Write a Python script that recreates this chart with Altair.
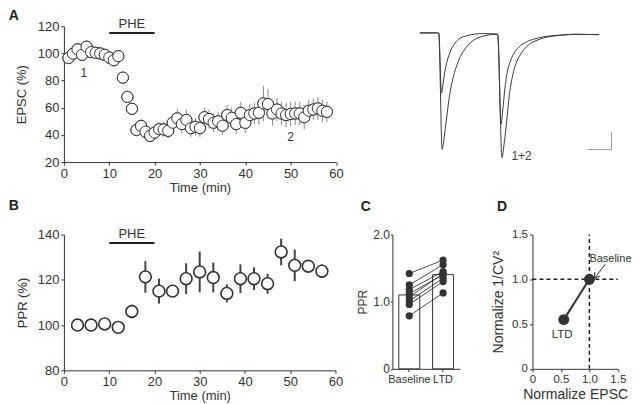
import altair as alt
import pandas as pd

FONT = "Liberation Sans"
INK = "#333333"

# ---------------- Panel A : EPSC time course ----------------
a_time = list(range(1, 59))
a_epsc = [96.6, 99.8, 103, 99, 105, 101, 100.5, 100, 99, 97, 95, 98,
          82.2, 68, 59.2, 43.6, 46.6, 42.4, 39.3, 41.7, 44.2, 44, 43, 49,
          52.2, 48, 51, 44.9, 46, 45, 53, 51.7, 49, 50, 46.8, 54.6, 52.6,
          48, 56.3, 48.9, 54.6, 55.8, 56.3, 63.2, 62.7, 55.8, 58.7, 55.8,
          54.6, 55.4, 55.8, 55.8, 53, 57.8, 58.7, 59.5, 57.8, 57]
a_err = [4, 4, 4.5, 4, 4.5, 4, 4, 4, 4, 4, 4.5, 4.5,
         3, 3, 3,
         4.5, 5, 4.5, 4.5, 5, 5, 5.5, 5.5,
         6.5, 7, 7, 7.5, 6.5, 6.5, 6.5, 7, 7, 7, 7, 7, 7.5, 7.5, 7.5, 8, 7.5, 8, 8, 8.5,
         13, 11,
         9, 8.5, 8.5, 9, 9, 8.5, 8.5, 9, 8, 8, 8.5, 8.5, 7.5]
a_phe = [10, 20]
a_phe_y = 115
a_marks_t = [4.4, 50]
a_marks_v = [85.6, 38.7]
a_marks_txt = ["1", "2"]

# ---------------- Panel A : example traces ----------------
tr1_t = [0, 15, 15.8, 18.6, 20, 21.4, 22.8, 24.2, 25.6, 28.3, 31.1, 33.9, 38.1,
         42.2, 47.8, 53.3, 58.9, 64.4, 65, 68.6, 70, 71.4, 72.8, 74.2, 75.6,
         78.3, 81.1, 85.3, 90.8, 97.8, 106.1, 117.2, 131.1, 149.7]
tr1_i = [0, 0, -1, -331, -306, -268, -230, -192, -162, -121, -90, -67, -44,
         -28, -15, -9, -5, -4, -5, -355, -325, -287, -240, -192, -156,
         -109, -80, -55, -34, -21, -12, -7, -4, -5]
tr2_t = [0, 15, 15.8, 18.1, 19.4, 20.8, 22.8, 25.6, 28.3, 32.5, 38.1, 45, 53.3,
         64.4, 65, 67.8, 68.9, 70, 71.4, 72.8, 75.6, 78.3, 82.5, 88.1, 95,
         103.3, 114.4, 128.3, 149.7]
tr2_i = [0, 0, -1, -171, -145, -112, -80, -52, -34, -18, -9, -4, -2,
         -3, -4, -260, -230, -192, -147, -115, -80, -60, -41, -27, -18,
         -11, -7, -4, -5]
bar_t = [140, 160]
bar_t2 = [160, 160]
bar_i = [-332, -332]
bar_i2 = [-332, -282]

# ---------------- Panel B : PPR time course ----------------
b_time = [3, 6, 9, 12, 15, 18, 21, 24, 27, 30, 33, 36, 39, 42, 45, 48, 51, 54, 57]
b_ppr = [100, 100, 100.5, 99, 106, 121.3, 115, 115, 120.5, 123.5, 121, 114,
         120.5, 120.5, 118.3, 132.3, 126.4, 126, 123.8]
b_err = [1.5, 1, 1.5, 1, 3, 7, 5.5, 1, 6.8, 9, 6.6, 4, 6.3, 5, 4.4, 5.9, 7, 1.5, 3]
b_phe_y = 136.3

# ---------------- Panel C : paired PPR ----------------
c_baseline = [1.42, 1.25, 1.18, 1.12, 1.07, 1.01, 0.96, 0.79]
c_ltd = [1.62, 1.55, 1.45, 1.40, 1.42, 1.35, 1.30, 1.13]
c_groups = ["Baseline", "LTD"]

# ---------------- Panel D : 1/CV^2 analysis ----------------
d_epsc = [1.0, 0.55]
d_cv = [1.0, 0.55]
d_names = ["Baseline", "LTD"]


def ax(title, values, size=13, pad=9, expr=None, tick=3, lpad=2, tsize=None, **kw):
    args = dict(values=values, grid=False, domainColor=INK, tickColor=INK,
                labelColor=INK, titleColor=INK, labelFont=FONT, titleFont=FONT,
                labelFontSize=size, titleFontSize=tsize or size, titleFontWeight="normal",
                tickSize=tick, labelPadding=lpad, titlePadding=pad, domainWidth=1,
                tickWidth=1, labelOverlap=False, labelFlush=False)
    args["title"] = title
    if expr is not None:
        args["labelExpr"] = expr
    args.update(kw)
    return alt.Axis(**args)


def letter(txt, x, y):
    return alt.Chart(pd.DataFrame({"k": [0]})).mark_text(
        text=txt, font=FONT, fontSize=14, fontWeight="bold", color="#222",
        align="left", baseline="alphabetic").encode(x=alt.value(x), y=alt.value(y))


def spacer(y1, y2):
    return alt.Chart(pd.DataFrame({"k": [0]})).mark_rule(
        strokeOpacity=0, opacity=0).encode(x=alt.value(0), y=alt.value(y1), y2=alt.value(y2))


ONE = "datum.value == 0 ? '0' : format(datum.value, '.1f')"

# ---------- A ----------
WA, HA = 272.5, 136
dfA = pd.DataFrame({"t": a_time, "v": a_epsc, "e": a_err})
sxA = alt.Scale(domain=[0, 60], nice=False)
syA = alt.Scale(domain=[20, 120], nice=False, zero=False)
axA_x = ax("Time (min)", [0, 10, 20, 30, 40, 50, 60], pad=1)
axA_y = ax("EPSC (%)", [20, 40, 60, 80, 100, 120], pad=9)


def XA(f):
    return alt.X(f, scale=sxA, axis=axA_x)


def YA(f):
    return alt.Y(f, scale=syA, axis=axA_y)


baseA = alt.Chart(dfA)
ptsA = baseA.mark_circle(fill="white", stroke=INK, strokeWidth=1, size=125, opacity=1).encode(
    x=XA("t:Q"), y=YA("v:Q"))
errA = baseA.transform_calculate(lo="datum.v - datum.e", hi="datum.v + datum.e").mark_rule(
    color="#8a8a8a", strokeWidth=1).encode(x=XA("t:Q"), y=YA("lo:Q"), y2="hi:Q")
pheA = alt.Chart(pd.DataFrame({"s": [a_phe[0]], "e": [a_phe[1]], "y": [a_phe_y]})).mark_rule(
    color="#222", strokeWidth=2).encode(x=XA("s:Q"), x2="e:Q", y=YA("y:Q"))
pheAt = alt.Chart(pd.DataFrame({"x": [sum(a_phe) / 2], "y": [a_phe_y], "l": ["PHE"]})).mark_text(
    font=FONT, fontSize=13, color=INK, baseline="bottom", dy=-2).encode(
    x=XA("x:Q"), y=YA("y:Q"), text="l:N")
lblA = alt.Chart(pd.DataFrame({"x": a_marks_t, "y": a_marks_v, "l": a_marks_txt})).mark_text(
    font=FONT, fontSize=12, color=INK).encode(x=XA("x:Q"), y=YA("y:Q"), text="l:N")
chartA = alt.layer(ptsA, errA, ptsA, pheA, pheAt, lblA, letter("A", -55.3, -6.7),
                   spacer(HA, HA + 36)).properties(width=WA, height=HA)

# ---------- traces ----------
dfT = pd.DataFrame({
    "t": tr1_t + tr2_t,
    "i": tr1_i + tr2_i,
    "tr": ["1"] * len(tr1_t) + ["2"] * len(tr2_t),
})
sxT = alt.Scale(domain=[0, 160], nice=False)
syT = alt.Scale(domain=[-367.6, 18.75], nice=False, zero=False)
linesT = alt.Chart(dfT).mark_line(color="#3a3a3a", strokeWidth=1, interpolate="monotone").encode(
    x=alt.X("t:Q", scale=sxT, axis=None), y=alt.Y("i:Q", scale=syT, axis=None), detail="tr:N")
sbar = alt.Chart(pd.DataFrame({"x": bar_t, "x2": bar_t2, "y": bar_i, "y2": bar_i2})).mark_rule(
    color="#999", strokeWidth=1).encode(
    x=alt.X("x:Q", scale=sxT, axis=None), x2="x2:Q", y=alt.Y("y:Q", scale=syT, axis=None), y2="y2:Q")
lblT = alt.Chart(pd.DataFrame({"x": [84.9], "y": [-351], "l": ["1+2"]})).mark_text(
    font=FONT, fontSize=12, color="#444").encode(
    x=alt.X("x:Q", scale=sxT, axis=None), y=alt.Y("y:Q", scale=syT, axis=None), text="l:N")
chartT = alt.layer(linesT, sbar, lblT).properties(width=192, height=136)

# ---------- B ----------
dfB = pd.DataFrame({"t": b_time, "v": b_ppr, "e": b_err})
sxB = alt.Scale(domain=[0, 60], nice=False)
syB = alt.Scale(domain=[80, 140], nice=False, zero=False)
axB_x = ax("Time (min)", [0, 10, 20, 30, 40, 50, 60], pad=1)
axB_y = ax("PPR (%)", [80, 100, 120, 140], pad=8)


def XB(f):
    return alt.X(f, scale=sxB, axis=axB_x)


def YB(f):
    return alt.Y(f, scale=syB, axis=axB_y)


baseB = alt.Chart(dfB)
ptsB = baseB.mark_circle(fill="white", stroke=INK, strokeWidth=1.6, size=140, opacity=1).encode(
    x=XB("t:Q"), y=YB("v:Q"))
errB = baseB.transform_calculate(lo="datum.v - datum.e", hi="datum.v + datum.e").mark_rule(
    color="#444", strokeWidth=2).encode(x=XB("t:Q"), y=YB("lo:Q"), y2="hi:Q")
pheB = alt.Chart(pd.DataFrame({"s": [10], "e": [20], "y": [b_phe_y]})).mark_rule(
    color="#222", strokeWidth=2).encode(x=XB("s:Q"), x2="e:Q", y=YB("y:Q"))
pheBt = alt.Chart(pd.DataFrame({"x": [15], "y": [b_phe_y], "l": ["PHE"]})).mark_text(
    font=FONT, fontSize=13, color=INK, baseline="bottom", dy=-2).encode(
    x=XB("x:Q"), y=YB("y:Q"), text="l:N")
chartB = alt.layer(errB, ptsB, pheB, pheBt, letter("B", -55.3, -24.3),
                   spacer(-36, 0)).properties(width=272, height=136)

# ---------- C ----------
n = len(c_baseline)
dfC = pd.DataFrame({
    "id": list(range(n)) * 2,
    "g": [c_groups[0]] * n + [c_groups[1]] * n,
    "v": c_baseline + c_ltd,
})
sxC = alt.Scale(domain=c_groups, paddingInner=0, paddingOuter=0)
syC = alt.Scale(domain=[0, 2], nice=False)
axC_x = ax(None, c_groups, size=11, labelAngle=0, tick=3, lpad=2)
axC_y = ax("PPR", [0, 1, 2], size=12, pad=3, expr=ONE, tick=2, lpad=1)


def XC(f):
    return alt.X(f, scale=sxC, sort=c_groups, axis=axC_x)


def YC(f):
    return alt.Y(f, scale=syC, axis=axC_y)


baseC = alt.Chart(dfC)
barsC = baseC.mark_bar(fill="white", stroke=INK, strokeWidth=1, size=21).encode(
    x=XC("g:N"), y=YC("mean(v):Q"))
linC = baseC.mark_line(color="#222", strokeWidth=0.8).encode(x=XC("g:N"), y=YC("v:Q"), detail="id:N")
dotC = baseC.mark_circle(color="#333", size=52, opacity=1).encode(x=XC("g:N"), y=YC("v:Q"))
chartC = alt.layer(barsC, linC, dotC, letter("C", -31.6, -23.6)).properties(width=67.7, height=134.5)

# ---------- D ----------
dfD = pd.DataFrame({"x": d_epsc, "y": d_cv, "n": d_names, "o": [0, 1]})
sxD = alt.Scale(domain=[0, 1.5], nice=False)
syD = alt.Scale(domain=[0, 1.5], nice=False)
axD_x = ax("Normalize EPSC", [0, 0.5, 1, 1.5], size=11.5, tsize=14, pad=2, expr=ONE)
axD_y = ax("Normalize 1/CV\u00b2", [0, 0.5, 1, 1.5], size=11.5, tsize=14, pad=6, expr=ONE)


def XD(f):
    return alt.X(f, scale=sxD, axis=axD_x)


def YD(f):
    return alt.Y(f, scale=syD, axis=axD_y)


dash = alt.Chart(pd.DataFrame({"x": [1, 0], "x2": [1, 1.5], "y": [0, 1], "y2": [1.5, 1]})).mark_rule(
    color="#222", strokeWidth=1.5, strokeDash=[4, 3]).encode(
    x=XD("x:Q"), x2="x2:Q", y=YD("y:Q"), y2="y2:Q")
lineD = alt.Chart(dfD).mark_line(color="#333", strokeWidth=2).encode(x=XD("x:Q"), y=YD("y:Q"), order="o:Q")
dotD = alt.Chart(dfD).mark_circle(color="#333", size=120, opacity=1).encode(x=XD("x:Q"), y=YD("y:Q"))
txtD1 = alt.Chart(pd.DataFrame({"x": [1.74], "y": [1.23], "n": [d_names[0]]})).mark_text(
    font=FONT, fontSize=11, color=INK, align="right").encode(x=XD("x:Q"), y=YD("y:Q"), text="n:N")
txtD2 = alt.Chart(pd.DataFrame({"x": [0.52], "y": [0.38], "n": [d_names[1]]})).mark_text(
    font=FONT, fontSize=11.5, color=INK, align="center").encode(x=XD("x:Q"), y=YD("y:Q"), text="n:N")
arrow = alt.Chart(pd.DataFrame({"x": [1.28], "x2": [1.09], "y": [1.17], "y2": [1.01]})).mark_rule(
    color="#333", strokeWidth=1).encode(x=XD("x:Q"), x2="x2:Q", y=YD("y:Q"), y2="y2:Q")
head = alt.Chart(pd.DataFrame({"x": [1.115], "y": [1.035]})).mark_point(
    shape="M-1,0.8L0,-0.8L1,0.8", filled=False, stroke="#333", strokeWidth=1, size=45, angle=217,
    opacity=1).encode(x=XD("x:Q"), y=YD("y:Q"))
chartD = alt.layer(dash, lineD, dotD, txtD1, txtD2, arrow, head, letter("D", -35.6, -23.6)).properties(
    width=85.5, height=134.5)

top = alt.hconcat(chartA, chartT, spacing=83.5, bounds="flush")
bottom = alt.hconcat(chartB, alt.hconcat(chartC, chartD, spacing=72.3, bounds="flush"),
                     spacing=57, bounds="flush")

chart = alt.vconcat(top, bottom, spacing=0.6).properties(padding=0).configure_view(
    stroke=None)

chart.save("out.html", embed_options={"renderer": "svg", "actions": False})
